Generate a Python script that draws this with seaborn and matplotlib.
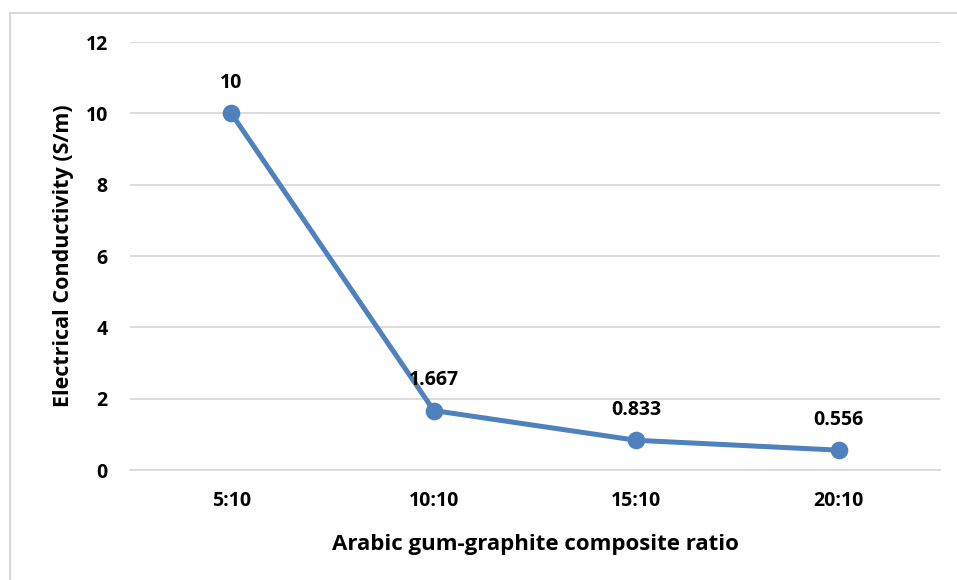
import matplotlib
matplotlib.use("Agg")
import matplotlib.pyplot as plt
from matplotlib.patches import Rectangle
import seaborn as sns
import pandas as pd

ratios = ["5:10", "10:10", "15:10", "20:10"]
conductivity = [10, 1.667, 0.833, 0.556]
value_labels = ["10", "1.667", "0.833", "0.556"]
y_ticks = [0, 2, 4, 6, 8, 10, 12]

sns.set_theme(style="white")
plt.rcParams["font.family"] = ["Open Sans", "DejaVu Sans"]
plt.rcParams["font.weight"] = "bold"

line_color = "#4F81BD"

fig = plt.figure(figsize=(9.57, 5.8), dpi=100)
ax = fig.add_axes([130 / 957, 110 / 580, 810 / 957, 428 / 580])

df = pd.DataFrame({"ratio": ratios, "sigma": conductivity})
sns.pointplot(data=df, x="ratio", y="sigma", color=line_color, ax=ax,
              markers="o", linestyles="-", errorbar=None,
              markersize=10, linewidth=3.6)

ax.set_xlim(-0.5, 3.5)
ax.set_ylim(0, 12)
ax.set_yticks(y_ticks)
ax.set_yticklabels([str(t) for t in y_ticks])
ax.grid(axis="y", color="#D9D9D9", linewidth=1.3)
ax.set_axisbelow(True)
for s in ax.spines.values():
    s.set_visible(False)
ax.spines["bottom"].set_visible(True)
ax.spines["bottom"].set_color("#D9D9D9")
ax.spines["bottom"].set_linewidth(1.3)
ax.tick_params(axis="both", length=0, labelsize=14)
ax.tick_params(axis="y", pad=16)
ax.tick_params(axis="x", pad=15)
for lab in ax.get_xticklabels() + ax.get_yticklabels():
    lab.set_fontweight("bold")
    lab.set_color("#000000")

ax.set_xlabel("Arabic gum-graphite composite ratio", fontsize=16,
              fontweight="bold", labelpad=17, color="#000000")
ax.set_ylabel("Electrical Conductivity (S/m)", fontsize=15.5,
              fontweight="bold", labelpad=8, color="#000000")

for i, (v, t) in enumerate(zip(conductivity, value_labels)):
    ax.annotate(t, (i, v), xytext=(0, 14.5), textcoords="offset points",
                ha="center", va="bottom", fontsize=14, fontweight="bold",
                color="#000000")

# chart-area frame
fig.patches.append(Rectangle((10 / 957, -0.05), 1.1, (580 - 13) / 580 + 0.05,
                             transform=fig.transFigure, fill=False,
                             edgecolor="#D9D9D9", linewidth=1.5))

fig.savefig("out.png", dpi=100)
